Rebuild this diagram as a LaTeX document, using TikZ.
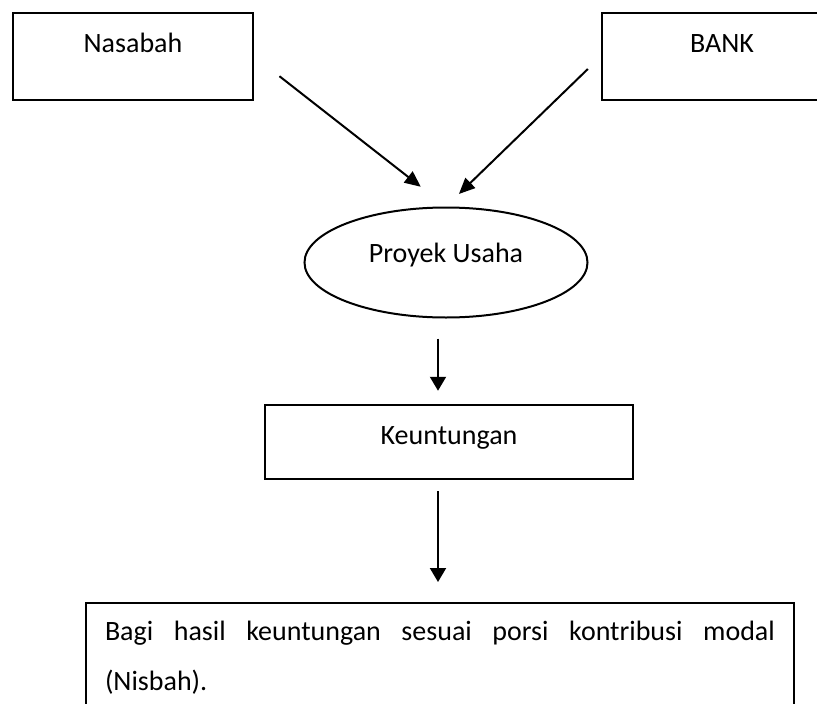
\documentclass[tikz,border=0pt]{standalone}
\usepackage{fontspec}
\setmainfont{Carlito}
\usetikzlibrary{shapes.geometric, positioning, arrows.meta}

\begin{document}
\begin{tikzpicture}[
        x=1pt, y=-1pt,
        font=\fontsize{28}{34}\selectfont,
        box/.style={draw=black, rectangle, line width=2.5pt, inner sep=0pt, align=center},
        pihak/.style={box, minimum width=240pt, minimum height=87pt, text height=39pt, text depth=48pt},
        usaha/.style={draw=black, ellipse, line width=2pt, inner sep=0pt, minimum width=283pt, minimum height=110pt, text height=20pt, text depth=20pt},
        untung/.style={box, minimum width=368pt, minimum height=74pt, text height=22pt, text depth=18pt},
        bagi/.style={box, line width=2pt, text width=670pt, align=justify, inner xsep=19pt, inner ysep=18pt, font=\fontsize{28}{50}\selectfont},
        panah/.style={draw=black, line width=2pt, -{Triangle[length=16pt, width=14pt]}},
        turun/.style={draw=black, line width=2pt, -{Triangle[length=14pt, width=16pt]}}
    ]
    \useasboundingbox (0,0) rectangle (817,704);
    \fill[white] (0,0) rectangle (817,704);
    \clip (0,0) rectangle (817,704);

    \node[pihak] (nasabah) at (133,56.5) {Nasabah};
    \node[pihak] (bank) at (722,56.5) {BANK};
    \node[usaha] (proyek) at (446,262.5) {Proyek Usaha};
    \node[untung] (keuntungan) at (449,442) {Keuntungan};
    \node[bagi, anchor=north west] (bagihasil) at (85,602) {Bagi hasil keuntungan sesuai porsi kontribusi modal \mbox{(Nisbah).}};

    \draw[panah, shorten <=32pt, shorten >=32pt] (nasabah.east) -- (proyek.north);
    \draw[panah, shorten <=18pt, shorten >=18pt] (bank.west) -- (proyek.north);
    \draw[turun, shorten <=20pt, shorten >=13pt] ([xshift=-8pt]proyek.south) -- ([xshift=-8pt]proyek.south |- keuntungan.north);
    \draw[turun, shorten <=11pt, shorten >=20pt] ([xshift=-11pt]keuntungan.south) -- ([xshift=-11pt]keuntungan.south |- bagihasil.north);
\end{tikzpicture}
\end{document}
